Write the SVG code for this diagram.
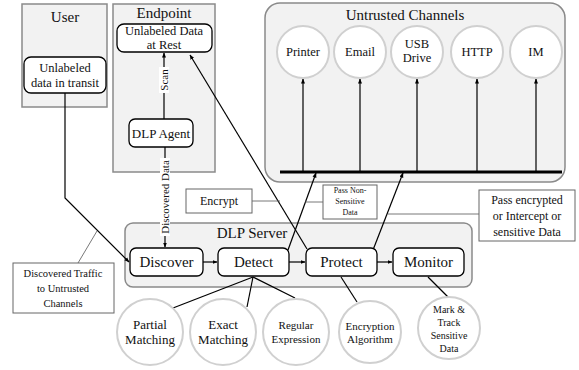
<svg xmlns="http://www.w3.org/2000/svg" width="579" height="370" viewBox="0 0 579 370">
<defs>
<marker id="ah" viewBox="0 0 10 10" refX="9" refY="5" markerWidth="5" markerHeight="5" orient="auto" markerUnits="userSpaceOnUse">
<path d="M0,1 L10,5 L0,9 z" fill="#000"/>
</marker>
<style>
text{font-family:'Liberation Serif','DejaVu Serif',serif;fill:#111;text-anchor:middle}
.grp{fill:#f2f2f2;stroke:#8a8a8a;stroke-width:1.5}
.node{fill:#fff;stroke:#000;stroke-width:1.3}
.circ{fill:#fff;stroke:#d0d0d0;stroke-width:2}
.note{fill:#fff;stroke:#666;stroke-width:1}
.ln{stroke:#000;stroke-width:1.2;fill:none}
.thin{stroke:#555;stroke-width:0.8;fill:none}
</style>
</defs>
<rect width="579" height="370" fill="#fff"/>

<g id="user">
<rect class="grp" x="22" y="4" width="85" height="103"/>
<text x="65" y="22" font-size="15">User</text>
</g>
<g id="endpoint">
<rect class="grp" x="113" y="4" width="102" height="168"/>
<text x="164" y="18" font-size="15">Endpoint</text>
</g>
<g id="untrusted">
<rect class="grp" x="265" y="3" width="300" height="179" rx="15"/>
<text x="405" y="20" font-size="15">Untrusted Channels</text>
</g>
<g id="dlpserver">
<rect class="grp" x="125" y="223" width="347" height="64" rx="8"/>
<text x="252" y="238" font-size="15">DLP Server</text>
</g>

<g id="connectors">
<line x1="280" y1="172" x2="562" y2="172" stroke="#000" stroke-width="3"/>
<line class="ln" x1="303" y1="172" x2="303" y2="79" marker-end="url(#ah)"/>
<line class="ln" x1="360" y1="172" x2="360" y2="79" marker-end="url(#ah)"/>
<line class="ln" x1="417" y1="172" x2="417" y2="79" marker-end="url(#ah)"/>
<line class="ln" x1="477" y1="172" x2="477" y2="79" marker-end="url(#ah)"/>
<line class="ln" x1="536" y1="172" x2="536" y2="79" marker-end="url(#ah)"/>
<polyline class="ln" points="65,93 65,198 129,262" marker-end="url(#ah)"/>
<line class="ln" x1="164" y1="119" x2="164" y2="53" marker-end="url(#ah)"/>
<line class="ln" x1="165" y1="147" x2="165" y2="247" marker-end="url(#ah)"/>
<line class="ln" x1="203" y1="262" x2="217" y2="262" marker-end="url(#ah)"/>
<line class="ln" x1="289" y1="262" x2="305" y2="262" marker-end="url(#ah)"/>
<line class="ln" x1="377" y1="262" x2="392" y2="262" marker-end="url(#ah)"/>
<line class="ln" x1="288" y1="250" x2="316" y2="173" marker-end="url(#ah)"/>
<line class="ln" x1="373" y1="250" x2="403" y2="173" marker-end="url(#ah)"/>
<line class="ln" x1="307" y1="249" x2="190" y2="55" marker-end="url(#ah)"/>
<line class="ln" x1="253" y1="277" x2="173" y2="308"/>
<line class="ln" x1="253" y1="277" x2="247" y2="307"/>
<line class="ln" x1="253" y1="277" x2="295" y2="298"/>
<line class="ln" x1="341" y1="277" x2="357" y2="302"/>
<line class="ln" x1="428" y1="277" x2="450" y2="299"/>
<line class="thin" x1="252" y1="201" x2="280" y2="201"/>
<line class="thin" x1="305" y1="202" x2="323" y2="202"/>
<line class="thin" x1="388" y1="214" x2="479" y2="214"/>
<line class="thin" x1="78" y1="263" x2="97" y2="231"/>
</g>

<g id="scan-label">
<rect x="159" y="67" width="10" height="26" fill="#fff"/>
<text transform="translate(168,80) rotate(-90)" font-size="11">Scan</text>
</g>
<g id="discovered-label">
<rect x="160" y="158" width="10" height="78" fill="#fff"/>
<text transform="translate(169,197) rotate(-90)" font-size="11">Discovered Data</text>
</g>

<g id="transit">
<rect class="node" x="24" y="57" width="82" height="36" rx="7"/>
<text x="65" y="72" font-size="12.5">Unlabeled</text>
<text x="65" y="87" font-size="12.5">data in transit</text>
</g>
<g id="rest">
<rect class="node" x="117" y="24" width="95" height="28" rx="7"/>
<text x="164" y="35" font-size="12.5">Unlabeled Data</text>
<text x="164" y="49" font-size="12.5">at Rest</text>
</g>
<g id="agent">
<rect class="node" x="129" y="119" width="64" height="28" rx="6"/>
<text x="161" y="138" font-size="13">DLP Agent</text>
</g>

<g id="printer"><circle class="circ" cx="303" cy="52" r="26"/><text x="303" y="56" font-size="12.5">Printer</text></g>
<g id="email"><circle class="circ" cx="360" cy="52" r="26"/><text x="360" y="56" font-size="12.5">Email</text></g>
<g id="usb"><circle class="circ" cx="417" cy="52" r="26"/><text x="417" y="48" font-size="12.5">USB</text><text x="417" y="62" font-size="12.5">Drive</text></g>
<g id="http"><circle class="circ" cx="477" cy="52" r="26"/><text x="477" y="56" font-size="12.5">HTTP</text></g>
<g id="im"><circle class="circ" cx="536" cy="52" r="26"/><text x="536" y="56" font-size="12.5">IM</text></g>

<g id="encrypt">
<rect class="note" x="186" y="189" width="66" height="24"/>
<text x="219" y="205" font-size="12">Encrypt</text>
</g>
<g id="passnon">
<rect class="note" x="323" y="185" width="54" height="34"/>
<text x="350" y="193" font-size="8">Pass Non-</text>
<text x="350" y="204" font-size="8">Sensitive</text>
<text x="350" y="215" font-size="8">Data</text>
</g>
<g id="passenc">
<rect class="note" x="479" y="190" width="96" height="51"/>
<text x="527" y="204" font-size="12">Pass encrypted</text>
<text x="527" y="220" font-size="12">or Intercept or</text>
<text x="527" y="236" font-size="12">sensitive Data</text>
</g>
<g id="traffic">
<rect class="note" x="13" y="263" width="101" height="50"/>
<text x="63" y="277" font-size="10.5">Discovered Traffic</text>
<text x="63" y="292" font-size="10.5">to Untrusted</text>
<text x="63" y="307" font-size="10.5">Channels</text>
</g>

<g id="discover"><rect class="node" x="130" y="248" width="73" height="28" rx="6"/><text x="166.5" y="267" font-size="15">Discover</text></g>
<g id="detect"><rect class="node" x="218" y="248" width="71" height="28" rx="6"/><text x="253.5" y="267" font-size="15">Detect</text></g>
<g id="protect"><rect class="node" x="306" y="248" width="71" height="28" rx="6"/><text x="341.5" y="267" font-size="15">Protect</text></g>
<g id="monitor"><rect class="node" x="393" y="248" width="71" height="28" rx="6"/><text x="428.5" y="267" font-size="15">Monitor</text></g>

<g id="partial"><circle class="circ" cx="150" cy="332" r="33"/><text x="150" y="329" font-size="13">Partial</text><text x="150" y="344" font-size="13">Matching</text></g>
<g id="exact"><circle class="circ" cx="223" cy="332" r="33"/><text x="223" y="329" font-size="13">Exact</text><text x="223" y="344" font-size="13">Matching</text></g>
<g id="regex"><circle class="circ" cx="296" cy="332" r="33"/><text x="296" y="329" font-size="11">Regular</text><text x="296" y="343" font-size="11">Expression</text></g>
<g id="encalg"><circle class="circ" cx="370" cy="332" r="31"/><text x="370" y="330" font-size="11">Encryption</text><text x="370" y="343" font-size="11">Algorithm</text></g>
<g id="mark"><circle class="circ" cx="449" cy="328" r="31"/><text x="449" y="313" font-size="10">Mark &amp;</text><text x="449" y="326" font-size="10">Track</text><text x="449" y="339" font-size="10">Sensitive</text><text x="449" y="352" font-size="10">Data</text></g>
</svg>
